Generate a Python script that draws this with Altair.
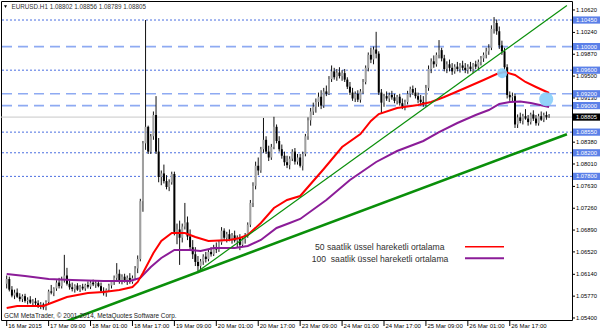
import altair as alt
import pandas as pd

# ---------------- data (hourly EURUSD bars, bar 0 = 16 Mar 2015 17:00) ----------------
first_open = 1.0598
closes = [1.0606,1.0588,1.0578,1.0583,1.0576,1.0572,1.0577,1.0569,1.0571,1.0566,
          1.0568,1.0565,1.0560,1.0563,1.0558,1.0567,1.0585,1.0583,1.0590,1.0600,
          1.0594,1.0606,1.0612,1.0598,1.0592,1.0589,1.0595,1.0588,1.0593,1.0590,
          1.0596,1.0593,1.0600,1.0597,1.0599,1.0594,1.0586,1.0582,1.0588,1.0595,
          1.0601,1.0608,1.0615,1.0602,1.0610,1.0604,1.0608,1.0601,1.0608,1.0624,
          1.0640,1.0738,1.0836,1.0864,1.0822,1.0848,1.0884,1.0822,1.0779,1.0785,
          1.0772,1.0762,1.0770,1.0784,1.0686,1.0690,1.0676,1.0695,1.0702,1.0678,
          1.0660,1.0648,1.0635,1.0628,1.0636,1.0644,1.0640,1.0652,1.0648,1.0660,
          1.0656,1.0668,1.0688,1.0676,1.0682,1.0673,1.0680,1.0671,1.0676,1.0664,
          1.0674,1.0680,1.0698,1.0735,1.0764,1.0798,1.0790,1.0826,1.0842,1.0822,
          1.0812,1.0830,1.0864,1.0840,1.0826,1.0815,1.0804,1.0799,1.0810,1.0822,
          1.0805,1.0812,1.0798,1.0818,1.0848,1.0875,1.0890,1.0898,1.0906,1.0915,
          1.0900,1.0924,1.0920,1.0945,1.0958,1.0948,1.0956,1.0950,1.0955,1.0944,
          1.0932,1.0922,1.0912,1.0920,1.0910,1.0924,1.0940,1.0964,1.0986,1.0978,
          1.0995,1.0988,1.0922,1.0905,1.0916,1.0912,1.0918,1.0914,1.0908,1.0915,
          1.0904,1.0898,1.0906,1.0920,1.0928,1.0922,1.0916,1.0910,1.0906,1.0902,
          1.0930,1.0962,1.0975,1.0970,1.0986,1.0994,1.0980,1.0962,1.0970,1.0964,
          1.0958,1.0966,1.0962,1.0968,1.0964,1.0960,1.0966,1.0962,1.0970,1.0966,
          1.0974,1.0980,1.0986,1.0992,1.0998,1.1030,1.1040,1.1026,1.1002,1.0992,
          1.0965,1.0918,1.0914,1.0916,1.0868,1.0880,1.0874,1.0882,1.0878,1.0872,
          1.0885,1.0878,1.0870,1.0882,1.0876,1.0884,1.0880,1.08805]
highs = [1.0612,1.0610,1.0594,1.0588,1.0590,1.0582,1.0580,1.0581,1.0575,1.0577,
         1.0572,1.0574,1.0570,1.0567,1.0566,1.0570,1.0588,1.0596,1.0592,1.0604,
         1.0608,1.0610,1.0647,1.0625,1.0606,1.0600,1.0597,1.0599,1.0596,1.0598,
         1.0598,1.0602,1.0604,1.0605,1.0603,1.0604,1.0600,1.0592,1.0590,1.0598,
         1.0604,1.0612,1.0633,1.0622,1.0614,1.0615,1.0612,1.0616,1.0612,1.0628,
         1.0646,1.0742,1.0840,1.1045,1.0866,1.0852,1.0890,1.0916,1.0845,1.0790,
         1.0800,1.0782,1.0775,1.0788,1.0788,1.0700,1.0705,1.0700,1.0735,1.0712,
         1.0690,1.0672,1.0660,1.0645,1.0640,1.0648,1.0652,1.0656,1.0660,1.0664,
         1.0668,1.0672,1.0694,1.0692,1.0686,1.0690,1.0684,1.0688,1.0680,1.0682,
         1.0678,1.0684,1.0702,1.0740,1.0770,1.0805,1.0812,1.0830,1.0879,1.0848,
         1.0832,1.0835,1.0881,1.0868,1.0848,1.0834,1.0822,1.0815,1.0814,1.0826,
         1.0828,1.0818,1.0818,1.0822,1.0852,1.0880,1.0896,1.0905,1.0912,1.0922,
         1.0926,1.0930,1.0934,1.0950,1.0968,1.0964,1.0962,1.0965,1.0960,1.0962,
         1.0948,1.0940,1.0930,1.0924,1.0926,1.0928,1.0945,1.0968,1.0990,1.0998,
         1.1000,1.1025,1.0992,1.0928,1.0920,1.0924,1.0922,1.0925,1.0920,1.0918,
         1.0920,1.0912,1.0910,1.0925,1.0932,1.0934,1.0930,1.0922,1.0918,1.0916,
         1.0935,1.0968,1.0980,1.0985,1.0990,1.1011,1.0998,1.0986,1.0975,1.0978,
         1.0972,1.0970,1.0974,1.0972,1.0976,1.0972,1.0970,1.0974,1.0972,1.0976,
         1.0978,1.0984,1.0990,1.0998,1.1004,1.1036,1.1050,1.1046,1.1034,1.1010,
         1.0998,1.0970,1.0924,1.0922,1.0920,1.0885,1.0888,1.0886,1.0894,1.0884,
         1.0888,1.0892,1.0884,1.0886,1.0890,1.0888,1.0890,1.08856]
lows = [1.0590,1.0585,1.0575,1.0572,1.0574,1.0568,1.0567,1.0566,1.0563,1.0564,
        1.0560,1.0562,1.0557,1.0555,1.0554,1.0553,1.0564,1.0580,1.0577,1.0586,
        1.0590,1.0590,1.0600,1.0595,1.0588,1.0585,1.0583,1.0586,1.0584,1.0587,
        1.0586,1.0590,1.0589,1.0594,1.0591,1.0592,1.0584,1.0578,1.0576,1.0584,
        1.0590,1.0596,1.0603,1.0598,1.0597,1.0600,1.0596,1.0598,1.0598,1.0604,
        1.0616,1.0636,1.0720,1.0825,1.0818,1.0818,1.0842,1.0818,1.0770,1.0765,
        1.0768,1.0758,1.0755,1.0766,1.0680,1.0665,1.0630,1.0668,1.0690,1.0672,
        1.0655,1.0640,1.0628,1.0616,1.0620,1.0630,1.0634,1.0636,1.0644,1.0645,
        1.0650,1.0652,1.0664,1.0672,1.0668,1.0670,1.0666,1.0668,1.0660,1.0655,
        1.0660,1.0666,1.0676,1.0694,1.0728,1.0758,1.0782,1.0786,1.0820,1.0818,
        1.0806,1.0808,1.0826,1.0836,1.0822,1.0810,1.0798,1.0794,1.0792,1.0806,
        1.0800,1.0800,1.0795,1.0790,1.0814,1.0842,1.0866,1.0884,1.0888,1.0898,
        1.0894,1.0896,1.0916,1.0918,1.0940,1.0944,1.0942,1.0946,1.0942,1.0940,
        1.0928,1.0918,1.0908,1.0906,1.0906,1.0905,1.0920,1.0936,1.0958,1.0972,
        1.0970,1.0980,1.0918,1.0886,1.0898,1.0908,1.0906,1.0910,1.0904,1.0902,
        1.0900,1.0894,1.0892,1.0902,1.0914,1.0918,1.0912,1.0904,1.0900,1.0898,
        1.0898,1.0925,1.0955,1.0964,1.0966,1.0980,1.0975,1.0958,1.0955,1.0958,
        1.0952,1.0954,1.0958,1.0956,1.0960,1.0955,1.0954,1.0958,1.0955,1.0962,
        1.0960,1.0968,1.0974,1.0980,1.0986,1.0994,1.1022,1.1020,1.0996,1.0986,
        1.0960,1.0912,1.0908,1.0906,1.0862,1.0862,1.0870,1.0868,1.0876,1.0866,
        1.0868,1.0874,1.0866,1.0866,1.0874,1.0872,1.0876,1.08789]

# EMA(50) and EMA(100) read at selected bars
ema50_bar = [0,4,14,18,23,31,37,43,48,50,52,56,59,63,68,72,77,85,89,92,97,102,107,112,
             121,128,135,139,142,149,157,162,167,175,182,187,190,194,198,202,207]
ema50_val = [1.05569,1.05603,1.05603,1.05671,1.05756,1.05823,1.05840,1.05874,1.05925,
             1.06010,1.06162,1.06501,1.06705,1.06840,1.06840,1.06772,1.06705,1.06722,
             1.06756,1.06806,1.07010,1.07264,1.07400,1.07467,1.07925,1.08298,1.08518,
             1.08739,1.08857,1.08959,1.09010,1.09061,1.09145,1.09298,1.09434,1.09535,
             1.09569,1.09518,1.09400,1.09315,1.09213]
ema100_bar = [0,7,16,25,37,47,51,55,59,64,70,74,79,87,92,97,103,108,112,122,131,141,
              149,159,165,172,179,184,188,192,196,200,207]
ema100_val = [1.06145,1.06112,1.06061,1.06044,1.06027,1.06027,1.06078,1.06264,1.06417,
              1.06552,1.06552,1.06535,1.06586,1.06586,1.06620,1.06722,1.06925,1.07010,
              1.07078,1.07400,1.07739,1.08044,1.08230,1.08400,1.08552,1.08705,1.08840,
              1.08925,1.09027,1.09061,1.09069,1.09044,1.08976]

# trend lines (bar, price anchors)
thin_bar = [73.2, 213.8]
thin_val = [1.06196, 1.10696]
thick_bar = [21.9, 213.8]
thick_val = [1.05330, 1.08515]

# highlighted points
circle_bar = [205.9, 189.1]
circle_val = [1.09107, 1.09547]
circle_size = [196, 100]

# horizontal levels
dotted_levels = [1.10450, 1.09600, 1.08550, 1.08200, 1.07800]
dashed_levels = [1.10000, 1.09200, 1.09000]
current_price = 1.08805

price_ticks = [1.10620, 1.10240, 1.09870, 1.09500, 1.09130, 1.08380, 1.08010,
               1.07630, 1.07260, 1.06890, 1.06520, 1.06140, 1.05770, 1.05400]
time_bars = [0, 16, 32, 48, 64, 80, 96, 112, 128, 144, 160, 176, 192]
time_labels = ["16 Mar 2015", "17 Mar 09:00", "18 Mar 01:00", "18 Mar 17:00",
               "19 Mar 09:00", "20 Mar 01:00", "20 Mar 17:00", "23 Mar 09:00",
               "24 Mar 01:00", "24 Mar 17:00", "25 Mar 09:00", "26 Mar 01:00",
               "26 Mar 17:00"]

title_text = "EURUSD.H1  1.08802 1.08856 1.08789 1.08805"
copyright_text = "GCM MetaTrader, \u00a9 2001-2014, MetaQuotes Software Corp."
legend_labels = ["50 saatlik \u00fcssel hareketli ortalama",
                 "100\u00a0 saatlik \u00fcssel hareketli ortalama"]

# ---------------- build ----------------
opens = [first_open] + closes[:-1]
candles = pd.DataFrame({
    "bar": list(range(len(closes))),
    "open": opens, "high": highs, "low": lows, "close": closes,
})
candles["dir"] = ["up" if c >= o else "down" for o, c in zip(opens, closes)]

FONT = "Liberation Sans"
xs = alt.Scale(domain=[-0.2625, 213.84], nice=False, zero=False)
ys = alt.Scale(domain=[1.053658, 1.107725], nice=False, zero=False)
X = lambda f: alt.X(f, type="quantitative", scale=xs, axis=None)
Y = lambda f: alt.Y(f, type="quantitative", scale=ys, axis=None)

lv_dot = alt.Chart(pd.DataFrame({"p": dotted_levels})).mark_rule(
    color="#4a6ee0", strokeDash=[2, 2], strokeWidth=1).encode(y=Y("p"))
lv_dash = alt.Chart(pd.DataFrame({"p": dashed_levels})).mark_rule(
    color="#8eaaf2", strokeDash=[10, 6], strokeWidth=1.6).encode(y=Y("p"))
lv_cur = alt.Chart(pd.DataFrame({"p": [current_price]})).mark_rule(
    color="#c8c8c8", strokeWidth=1).encode(y=Y("p"))

wicks = alt.Chart(candles).mark_rule(color="#111111", strokeWidth=1).encode(
    x=X("bar"), y=Y("low"), y2="high")
bodies = alt.Chart(candles).mark_bar(size=2).encode(
    x=X("bar"), y=Y("open"), y2="close",
    color=alt.Color("dir:N", scale=alt.Scale(domain=["up", "down"],
                                             range=["#a0a0a0", "#000000"]), legend=None))

ema50 = alt.Chart(pd.DataFrame({"bar": ema50_bar, "v": ema50_val})).mark_line(
    color="#ff0000", strokeWidth=2).encode(x=X("bar"), y=Y("v"))
ema100 = alt.Chart(pd.DataFrame({"bar": ema100_bar, "v": ema100_val})).mark_line(
    color="#8b1c98", strokeWidth=2).encode(x=X("bar"), y=Y("v"))

thin = alt.Chart(pd.DataFrame({"bar": thin_bar, "v": thin_val})).mark_line(
    color="#0a8f0a", strokeWidth=1.2, clip=True).encode(x=X("bar"), y=Y("v"))
thick = alt.Chart(pd.DataFrame({"bar": thick_bar, "v": thick_val})).mark_line(
    color="#0a8f0a", strokeWidth=2.6, clip=True).encode(x=X("bar"), y=Y("v"))

circles = alt.Chart(pd.DataFrame({"bar": circle_bar, "v": circle_val, "s": circle_size})).mark_circle(
    color="#87cefa", opacity=0.9).encode(x=X("bar"), y=Y("v"),
                                         size=alt.Size("s:Q", scale=None, legend=None))

# right price axis
pt = pd.DataFrame({"p": price_ticks})
rticks = alt.Chart(pt).mark_rule(color="#000000").encode(
    x=alt.value(571), x2=alt.value(574), y=Y("p"))
rlabels = alt.Chart(pt).mark_text(align="left", baseline="middle", font=FONT,
                                  fontSize=5.8, color="#000000").encode(
    x=alt.value(575), y=Y("p"), text=alt.Text("p:Q", format=".5f"))

hl = pd.DataFrame({"p": dotted_levels + dashed_levels})
hl_box = alt.Chart(hl).mark_rect(color="#5b80e8", yOffset=-3.6, y2Offset=3.6).encode(
    x=alt.value(572), x2=alt.value(599), y=Y("p"), y2="p")
hl_txt = alt.Chart(hl).mark_text(align="left", baseline="middle", font=FONT,
                                 fontSize=5.8, color="#ffffff").encode(
    x=alt.value(575), y=Y("p"), text=alt.Text("p:Q", format=".5f"))
cur = pd.DataFrame({"p": [current_price]})
cur_box = alt.Chart(cur).mark_rect(color="#000000", yOffset=-3.6, y2Offset=3.6).encode(
    x=alt.value(572), x2=alt.value(599), y=Y("p"), y2="p")
cur_txt = alt.Chart(cur).mark_text(align="left", baseline="middle", font=FONT,
                                   fontSize=5.8, color="#ffffff").encode(
    x=alt.value(575), y=Y("p"), text=alt.Text("p:Q", format=".5f"))

# bottom time axis
tt = pd.DataFrame({"bar": time_bars, "lab": time_labels})
bticks = alt.Chart(tt).mark_rule(color="#000000").encode(
    x=X("bar"), y=alt.value(320), y2=alt.value(325))
blabels = alt.Chart(tt).mark_text(align="left", baseline="middle", font=FONT,
                                  fontSize=6, dx=1.5, color="#000000").encode(
    x=X("bar"), y=alt.value(324.5), text="lab:N")

# texts
one = pd.DataFrame({"t": [title_text]})
title = alt.Chart(one).mark_text(align="left", baseline="middle", font=FONT,
                                 fontSize=6.3, color="#303030").encode(
    x=alt.value(10.5), y=alt.value(5.8), text="t:N")
tri = alt.Chart(one).mark_point(shape="triangle-down", filled=True, color="#000000",
                                size=9, opacity=1).encode(x=alt.value(4.5), y=alt.value(5.6))
cp = alt.Chart(pd.DataFrame({"t": [copyright_text]})).mark_text(
    align="left", baseline="middle", font=FONT, fontSize=6.4, color="#202020").encode(
    x=alt.value(3), y=alt.value(314.7), text="t:N")

leg1 = alt.Chart(pd.DataFrame({"t": [legend_labels[0]]})).mark_text(
    align="left", baseline="middle", font=FONT, fontSize=8.6, color="#303030").encode(
    x=alt.value(314), y=alt.value(246.3), text="t:N")
leg2 = alt.Chart(pd.DataFrame({"t": [legend_labels[1]]})).mark_text(
    align="left", baseline="middle", font=FONT, fontSize=8.6, color="#303030").encode(
    x=alt.value(310.7), y=alt.value(257.5), text="t:N")
leg1l = alt.Chart(pd.DataFrame({"t": [legend_labels[0]]})).mark_rule(
    color="#ff0000", strokeWidth=1.5).encode(x=alt.value(464), x2=alt.value(503), y=alt.value(245.7))
leg2l = alt.Chart(pd.DataFrame({"t": [legend_labels[1]]})).mark_rule(
    color="#8b1c98", strokeWidth=2).encode(x=alt.value(464), x2=alt.value(503), y=alt.value(257.3))

chart = alt.layer(
    lv_dot, lv_dash, lv_cur, wicks, bodies, ema100, ema50, thin, thick, circles,
    rticks, rlabels, hl_box, hl_txt, cur_box, cur_txt, bticks, blabels,
    title, tri, cp, leg1, leg2, leg1l, leg2l,
).properties(
    width=571, height=319,
    padding={"left": 1, "top": 1, "right": 28, "bottom": 13},
    autosize=alt.AutoSizeParams(type="none"),
    background="#ffffff",
).configure_view(stroke="#000000", strokeWidth=1)

chart.save("out.html", embed_options={"renderer": "svg", "actions": False})
